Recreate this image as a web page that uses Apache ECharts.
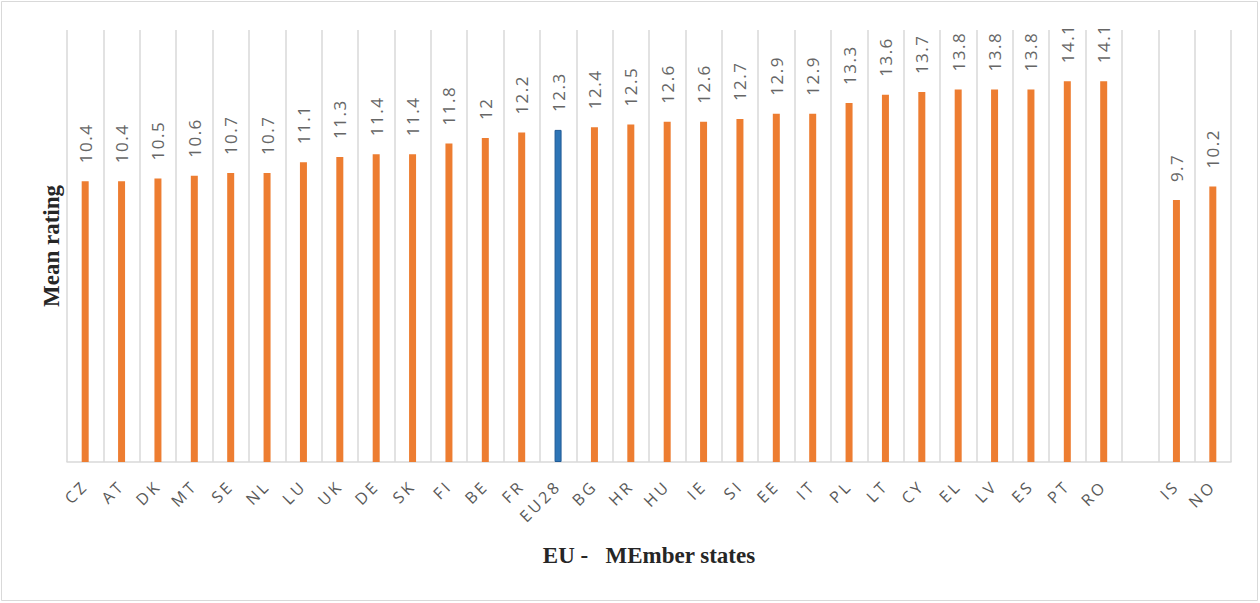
<!DOCTYPE html>
<html><head><meta charset="utf-8">
<script src="https://cdn.jsdelivr.net/npm/echarts@6/dist/echarts.min.js"></script>
<style>html,body{margin:0;padding:0;background:#fff}#c{width:1260px;height:603px}</style>
</head><body><div id="c"></div>
<script>
const categories = ['CZ','AT','DK','MT','SE','NL','LU','UK','DE','SK','FI','BE','FR','EU28','BG','HR','HU','IE','SI','EE','IT','PL','LT','CY','EL','LV','ES','PT','RO','','IS','NO'];
const values = [10.4,10.4,10.5,10.6,10.7,10.7,11.1,11.3,11.4,11.4,11.8,12,12.2,12.3,12.4,12.5,12.6,12.6,12.7,12.9,12.9,13.3,13.6,13.7,13.8,13.8,13.8,14.1,14.1,null,9.7,10.2];
const highlight = 'EU28';

const chart = echarts.init(document.getElementById('c'), null, {renderer:'svg'});
chart.setOption({
  animation:false,
  backgroundColor:'#fff',
  graphic:[{type:'rect',shape:{x:1.5,y:1.5,width:1256,height:599},style:{fill:'none',stroke:'#d9d9d9',lineWidth:1}}],
  grid:{left:67,right:29,top:30,bottom:141},
  xAxis:{
    type:'category',data:categories,
    name:'EU -   MEmber states',nameLocation:'middle',nameGap:82,
    nameTextStyle:{fontFamily:'Liberation Serif',fontWeight:'bold',fontSize:23,color:'#262626'},
    axisLine:{lineStyle:{color:'#d9d9d9',width:1.5}},
    axisTick:{show:false},
    axisLabel:{rotate:45,fontFamily:'Open Sans',fontSize:16,color:'#595959',margin:21,interval:0},
    splitLine:{show:true,lineStyle:{color:'#d9d9d9',width:1.5}}
  },
  yAxis:{
    type:'value',min:0,max:16,
    name:'Mean rating',nameLocation:'middle',nameGap:4,
    nameTextStyle:{fontFamily:'Liberation Serif',fontWeight:'bold',fontSize:23,color:'#262626'},
    axisLine:{show:false},axisTick:{show:false},axisLabel:{show:false},splitLine:{show:false}
  },
  series:[{
    type:'bar',barWidth:7,
    data:values.map((v,i)=>categories[i]===highlight?{value:v,itemStyle:{color:'#2E75B6',borderColor:'#1F5A96',borderWidth:1}}:v),
    itemStyle:{color:'#ED7D31'},
    label:{show:true,position:'top',rotate:90,align:'left',verticalAlign:'middle',distance:18,
      fontFamily:'Open Sans',fontSize:17,color:'#666666'}
  }]
});
function spaceLabels(){
  const set = new Set(categories.filter(c=>c));
  document.querySelectorAll('#c svg text').forEach(t=>{
    const s = t.textContent.trim();
    if(set.has(s)) t.setAttribute('letter-spacing','3');
    else if(/^\d+(\.\d+)?$/.test(s)) t.setAttribute('letter-spacing','1.5');
  });
}
spaceLabels();
chart.on('finished', spaceLabels);
</script></body></html>
